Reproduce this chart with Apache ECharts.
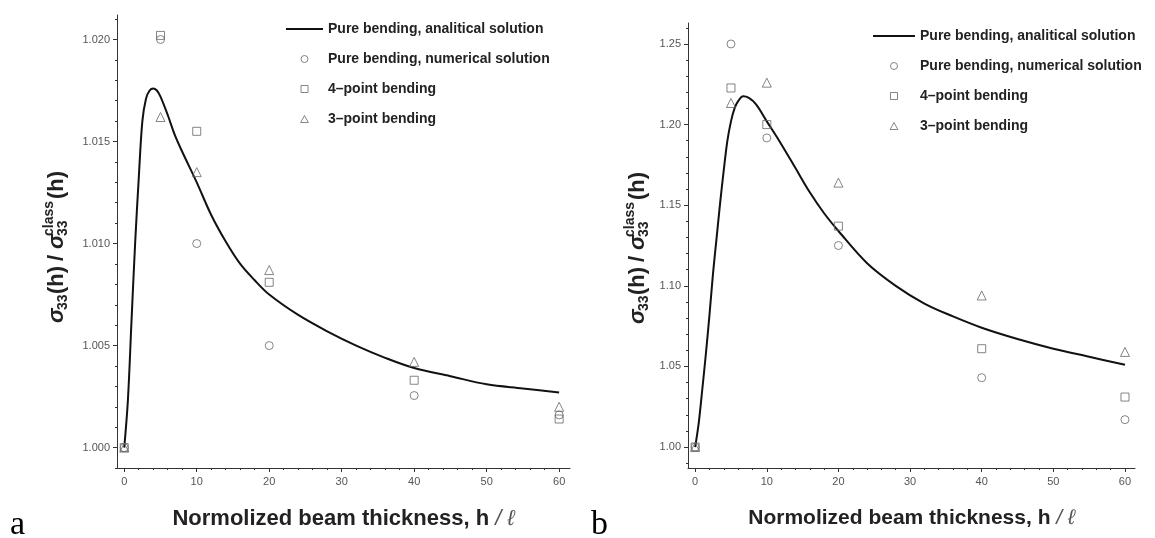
<!DOCTYPE html>
<html><head><meta charset="utf-8">
<script src="https://cdn.jsdelivr.net/npm/echarts@6/dist/echarts.min.js"></script>
<style>html,body{margin:0;padding:0;background:#fff}#c{width:1155px;height:538px}</style>
</head><body><div id="c"></div>
<script>
// ---------- data ----------
const seriesNames = ['Pure bending, analitical solution', 'Pure bending, numerical solution', '4\u2013point bending', '3\u2013point bending'];

// panel a : analytical curve
const hA = [0, 0.5, 1, 1.5, 2, 2.5, 3, 3.5, 4, 4.5, 5, 6, 7, 8, 10, 12, 14, 16, 18, 20, 24, 28, 32, 36, 40, 45, 50, 55, 60];
const curveA = [1.0000, 1.0023, 1.0062, 1.0100, 1.0132, 1.0160, 1.0171, 1.0175, 1.0176, 1.0175, 1.0172, 1.0163, 1.0153, 1.0145, 1.0130, 1.0114, 1.0101, 1.0090, 1.0082, 1.0075, 1.0065, 1.0057, 1.0050, 1.0044, 1.0039, 1.0035, 1.0031, 1.0029, 1.0027];
// panel a : numerical points
const ptX = [0, 5, 10, 20, 40, 60];
const circA = [1.0000, 1.0200, 1.0100, 1.0050, 1.00255, 1.0016];
const sqA   = [1.0000, 1.0202, 1.0155, 1.0081, 1.0033, 1.0014];
const triA  = [1.0000, 1.0162, 1.0135, 1.0087, 1.0042, 1.0020];

// panel b : analytical curve
const hB = [0, 0.5, 1, 1.5, 2, 2.5, 3, 3.5, 4, 4.5, 5, 5.5, 6, 6.7, 7.5, 8.5, 10, 12, 14, 16, 18, 20, 24, 28, 32, 36, 40, 45, 50, 55, 60];
const curveB = [1.000, 1.015, 1.036, 1.058, 1.082, 1.108, 1.130, 1.152, 1.172, 1.190, 1.202, 1.210, 1.2145, 1.2175, 1.2165, 1.2125, 1.202, 1.188, 1.173, 1.158, 1.145, 1.134, 1.114, 1.100, 1.089, 1.081, 1.074, 1.067, 1.061, 1.056, 1.051];
// panel b : numerical points
const circB = [1.000, 1.250, 1.1917, 1.125, 1.043, 1.017];
const sqB   = [1.000, 1.2227, 1.200, 1.137, 1.061, 1.031];
const triB  = [1.000, 1.2134, 1.226, 1.164, 1.094, 1.059];

// ticks
const xMajor = [0, 10, 20, 30, 40, 50, 60];
const xMinor = [2, 4, 6, 8, 12, 14, 16, 18, 22, 24, 26, 28, 32, 34, 36, 38, 42, 44, 46, 48, 52, 54, 56, 58];
const yMajorA = [1.000, 1.005, 1.010, 1.015, 1.020];
const yMinorA = [0.999, 1.001, 1.002, 1.003, 1.004, 1.006, 1.007, 1.008, 1.009, 1.011, 1.012, 1.013, 1.014, 1.016, 1.017, 1.018, 1.019, 1.021];
const yMajorB = [1.00, 1.05, 1.10, 1.15, 1.20, 1.25];
const yMinorB = [0.99, 1.01, 1.02, 1.03, 1.04, 1.06, 1.07, 1.08, 1.09, 1.11, 1.12, 1.13, 1.14, 1.16, 1.17, 1.18, 1.19, 1.21, 1.22, 1.23, 1.24, 1.26];
const xTitle = 'Normolized beam thickness, h ';
const xTitleEnd = '/ \u2113';

// ---------- chart ----------
const FONT = '"Liberation Sans", Arial, sans-serif';
const axisCol = '#333';
const markCol = '#666';
const LINE_ICON = 'path://M0,0L100,0L100,5L0,5Z';
const SQ_ICON = 'path://M0,0L10,0L10,10L0,10Z';
const TRI_ICON = 'path://M5,0L10,9L0,9Z';

function pairs(xs, ys) { return xs.map((x, i) => [x, ys[i]]); }

function xAxes(grid, xmax, fs) {
  return [
    {
      gridIndex: grid, type: 'value', min: -1, max: xmax,
      axisLine: { show: true, onZero: false, lineStyle: { color: axisCol, width: 1 } },
      axisTick: { show: true, customValues: xMajor, length: 4, lineStyle: { color: axisCol } },
      axisLabel: { customValues: xMajor, color: '#555', fontSize: 11, fontFamily: FONT, margin: 8 },
      splitLine: { show: false },
      name: '{b|' + xTitle + '}{l|' + xTitleEnd + '}',
      nameLocation: 'middle', nameGap: 40,
      nameTextStyle: {
        rich: {
          b: { fontSize: fs, fontWeight: 'bold', fontFamily: FONT, color: '#222' },
          l: { fontSize: fs, fontWeight: 'normal', fontFamily: FONT, color: '#555', fontStyle: 'italic' }
        }
      }
    },
    {
      gridIndex: grid, type: 'value', min: -1, max: xmax, position: 'bottom',
      axisLine: { show: false, onZero: false },
      axisTick: { show: true, customValues: xMinor, length: 2, lineStyle: { color: axisCol } },
      axisLabel: { show: false },
      splitLine: { show: false }
    }
  ];
}

function yAxes(grid, ymin, ymax, major, minor, dec) {
  return [
    {
      gridIndex: grid, type: 'value', min: ymin, max: ymax, position: 'left',
      axisLine: { show: true, onZero: false, lineStyle: { color: axisCol, width: 1 } },
      axisTick: { show: true, customValues: major, length: 4, lineStyle: { color: axisCol } },
      axisLabel: { customValues: major, color: '#555', fontSize: 11, fontFamily: FONT, margin: 7,
                   formatter: v => Number(v).toFixed(dec) },
      splitLine: { show: false }
    },
    {
      gridIndex: grid, type: 'value', min: ymin, max: ymax, position: 'left', offset: 0,
      axisLine: { show: false, onZero: false },
      axisTick: { show: true, customValues: minor, length: 2, lineStyle: { color: axisCol } },
      axisLabel: { show: false },
      splitLine: { show: false }
    }
  ];
}

function panelSeries(xi, yi, h, curve, circ, sq, tri) {
  const common = { xAxisIndex: xi, yAxisIndex: yi };
  const mk = { color: 'rgba(255,255,255,0)', borderColor: markCol, borderWidth: 1 };
  return [
    Object.assign({ type: 'line', name: seriesNames[0], data: pairs(h, curve), symbol: 'none', showSymbol: false,
      smooth: 0.35, lineStyle: { color: '#111', width: 2 }, itemStyle: { color: '#111' }, z: 2 }, common),
    Object.assign({ type: 'scatter', name: seriesNames[1], data: pairs(ptX, circ), symbol: 'circle', symbolSize: 8,
      itemStyle: mk, z: 3 }, common),
    Object.assign({ type: 'scatter', name: seriesNames[2], data: pairs(ptX, sq), symbol: 'rect', symbolSize: 8,
      itemStyle: mk, z: 3 }, common),
    Object.assign({ type: 'scatter', name: seriesNames[3], data: pairs(ptX, tri), symbol: 'triangle', symbolSize: 9,
      itemStyle: mk, z: 3 }, common)
  ];
}

function legendAt(left, top, w) {
  return {
    orient: 'vertical', left: left, top: top, itemWidth: w, itemHeight: 7, itemGap: 16,
    selectedMode: false, symbolKeepAspect: true,
    data: [
      { name: seriesNames[0], icon: LINE_ICON, itemStyle: { color: '#111', borderWidth: 0 } },
      { name: seriesNames[1], icon: 'circle', itemStyle: { borderWidth: 1 } },
      { name: seriesNames[2], icon: SQ_ICON, itemStyle: { borderWidth: 1 } },
      { name: seriesNames[3], icon: TRI_ICON, itemStyle: { borderWidth: 1 } }
    ],
    textStyle: { fontSize: 14, fontWeight: 'bold', fontFamily: FONT, color: '#222' }
  };
}

function yTitle(cx, by) {
  const mainF = 'bold 22px ' + FONT;
  const smallF = 'bold 14px ' + FONT;
  const sigF = 'italic bold 22px ' + FONT;
  const t = (text, x, y, font) => ({ type: 'text', x: x, y: y,
    style: { text: text, font: font, fill: '#222', align: 'left', verticalAlign: 'middle' } });
  return {
    type: 'group', x: cx, y: by, rotation: Math.PI / 2,
    children: [
      t('\u03c3', 0, 0, sigF),
      t('33', 13, 6, smallF),
      t('(h)', 29, 0, mainF),
      t('/', 62, 0, mainF),
      t('\u03c3', 74, 0, sigF),
      t('class', 87, -8, smallF),
      t('33', 87, 6, smallF),
      t('(h)', 124, 0, mainF)
    ]
  };
}

const chart = echarts.init(document.getElementById('c'), null, { renderer: 'canvas' });
chart.setOption({
  animation: false,
  backgroundColor: '#fff',
  grid: [
    { left: 117, top: 15, width: 453, height: 453 },
    { left: 688, top: 23, width: 447, height: 445 }
  ],
  xAxis: xAxes(0, 61.5, 22).concat(xAxes(1, 61.4, 21)),
  yAxis: yAxes(0, 0.999, 1.0212, yMajorA, yMinorA, 3).concat(yAxes(1, 0.987, 1.263, yMajorB, yMinorB, 2)),
  legend: [legendAt(281, 17, 37), legendAt(868, 24, 42)],
  series: panelSeries(0, 0, hA, curveA, circA, sqA, triA).concat(panelSeries(2, 2, hB, curveB, circB, sqB, triB)),
  graphic: [
    yTitle(57, 323),
    yTitle(638, 324),
    { type: 'text', x: 10, y: 525, style: { text: 'a', font: '34px "Liberation Serif", "Times New Roman", serif', fill: '#000', verticalAlign: 'middle' } },
    { type: 'text', x: 591, y: 525, style: { text: 'b', font: '34px "Liberation Serif", "Times New Roman", serif', fill: '#000', verticalAlign: 'middle' } }
  ]
});
</script>
</body></html>
